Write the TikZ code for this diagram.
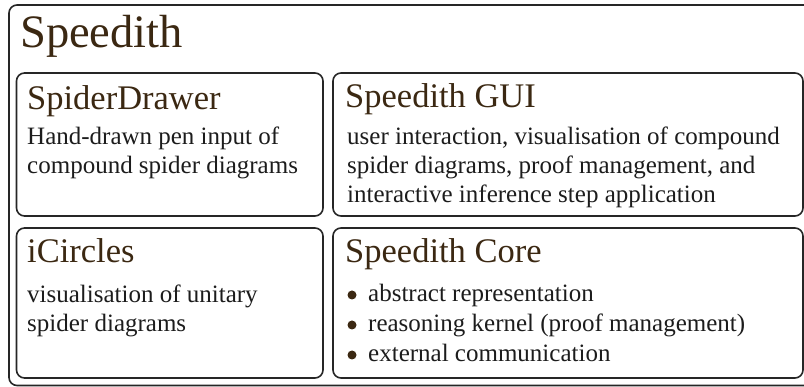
\documentclass[tikz,border=0pt]{standalone}
\usepackage{fontspec}
\setmainfont{Liberation Serif}
\definecolor{titlebrown}{HTML}{3B2812}
\definecolor{bodyink}{HTML}{1C1C1C}
\tikzset{
  framebox/.style={draw=black!85, line width=1.6pt, rounded corners=8pt},
  bigtitle/.style={anchor=base west, inner sep=0pt, text=titlebrown, font=\fontsize{46.5}{50}\selectfont},
  boxtitle/.style={anchor=base west, inner sep=0pt, text=titlebrown, font=\fontsize{34.5}{38}\selectfont},
  bodytext/.style={anchor=base west, inner sep=0pt, text=bodyink, font=\fontsize{25}{29}\selectfont},
  bulletdot/.style={fill=titlebrown, draw=none}
}
\begin{document}
\begin{tikzpicture}[x=1pt,y=-1pt]
\useasboundingbox (0,0) rectangle (804,387);
\clip (0,0) rectangle (804,387);
% outer frame
\draw[framebox] (9,5) rectangle (816,385.5);
\node[bigtitle] (tmain) at (20,48) {Speedith};
% boxes
\draw[framebox] (16.5,73) rectangle (323,216);
\draw[framebox] (333,73) rectangle (803,216);
\draw[framebox] (16.5,228) rectangle (323,378);
\draw[framebox] (333,228) rectangle (803,378);
% SpiderDrawer
\node[boxtitle] (tsd) at (27,110) {SpiderDrawer};
\node[bodytext] (sd1) at (27,145) {Hand-drawn pen input of};
\node[bodytext] (sd2) at (27,174) {compound spider diagrams};
% GUI
\node[boxtitle] (tgui) at (345,108) {Speedith GUI};
\node[bodytext] (g1) at (347,145) {user interaction, visualisation of compound};
\node[bodytext] (g2) at (347,174) {spider diagrams, proof management, and};
\node[bodytext] (g3) at (347,203) {interactive inference step application};
% iCircles
\node[boxtitle] (tic) at (27,263) {iCircles};
\node[bodytext] (ic1) at (27,303) {visualisation of unitary};
\node[bodytext] (ic2) at (27,332) {spider diagrams};
% Core
\node[bodytext] (c1) at (368,302) {abstract representation};
\node[bodytext] (c2) at (368,332) {reasoning kernel (proof management)};
\node[bodytext] (c3) at (368,362) {external communication};
\node[boxtitle] (tcore) at (345,263) {Speedith Core};
\fill[bulletdot] (352,295) circle (4.5pt);
\fill[bulletdot] (352,325) circle (4.5pt);
\fill[bulletdot] (352,355) circle (4.5pt);
\end{tikzpicture}
\end{document}
